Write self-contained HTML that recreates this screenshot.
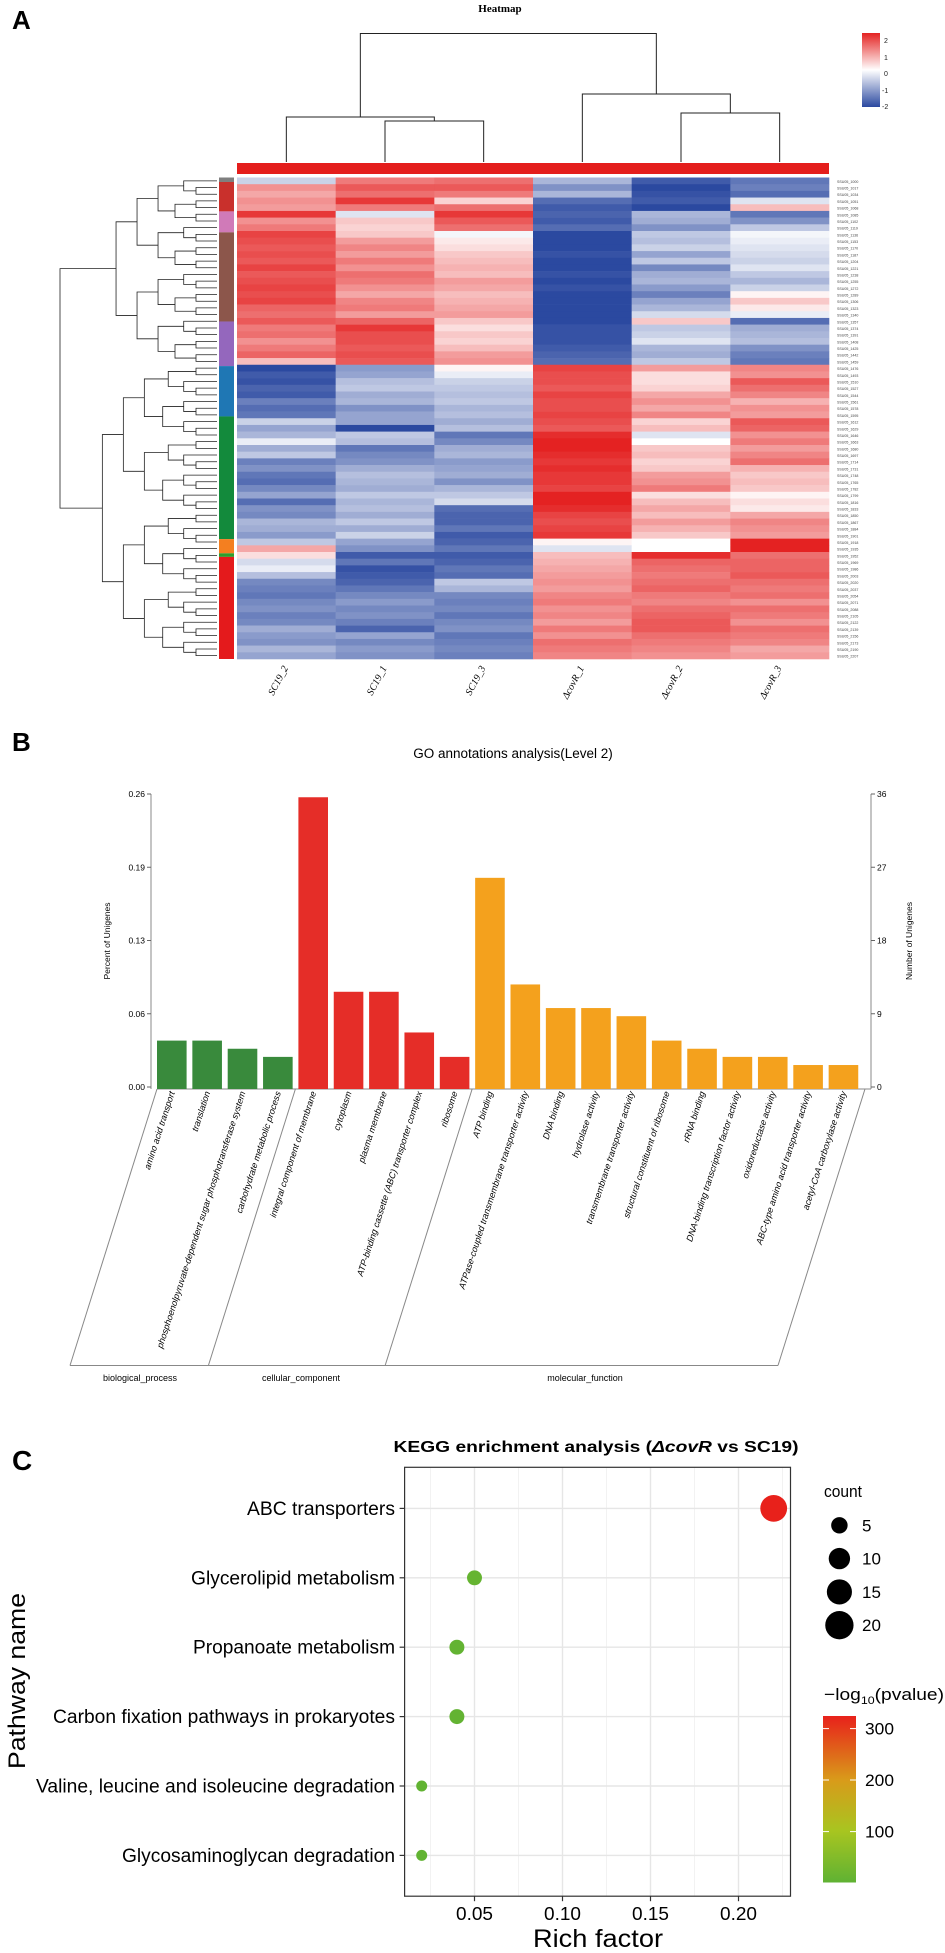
<!DOCTYPE html>
<html><head><meta charset="utf-8"><style>
html,body{margin:0;padding:0;background:#fff}
svg{display:block}
text{font-family:"Liberation Sans",Arial,sans-serif}
</style></head><body>
<svg id="fig" width="945" height="1953" viewBox="0 0 945 1953" xmlns="http://www.w3.org/2000/svg">
<defs>
<linearGradient id="hmgrad" x1="0" y1="0" x2="0" y2="1">
<stop offset="0" stop-color="#e42322"/><stop offset="0.5" stop-color="#ffffff"/><stop offset="1" stop-color="#2b49a0"/>
</linearGradient>
<linearGradient id="pgrad" x1="0" y1="1" x2="0" y2="0">
<stop offset="0" stop-color="#5fb233"/><stop offset="0.31" stop-color="#a8c520"/><stop offset="0.62" stop-color="#d99a1a"/><stop offset="1" stop-color="#e8211b"/>
</linearGradient>
</defs>
<!-- Panel A -->
<g id="panelA">
<text x="12" y="29" font-size="26" font-weight="bold">A</text>
<text x="500" y="12" font-size="11" font-weight="bold" text-anchor="middle" style="font-family:'Liberation Serif',serif">Heatmap</text>
<g id="coldend" stroke="#222" stroke-width="1" fill="none"></g>
<rect x="237" y="163" width="592" height="11" fill="#e41e1c"/>
<g id="rowdend" stroke="#222" stroke-width="0.8" fill="none"></g>
<g id="clusterbar"></g>
<g id="cells"></g>
<g id="rowlabels"></g>
<g id="collabels"></g>
<g>
<rect x="862" y="33" width="18" height="74" fill="url(#hmgrad)"/>
<g font-size="7" style="font-family:'Liberation Serif',serif" fill="#222">
<text x="884" y="43">2</text><text x="884" y="60">1</text><text x="884" y="76">0</text><text x="882" y="93">-1</text><text x="882" y="109">-2</text>
</g>
</g>
</g>
<!-- Panel B -->
<g id="panelB">
<text x="12" y="751" font-size="26" font-weight="bold">B</text>
<text x="513" y="758" font-size="13.5" text-anchor="middle">GO annotations analysis(Level 2)</text>
<g id="goaxes"></g>
<g id="gobars"></g>
<g id="golabels"></g>
<g id="gogroups"></g>
</g>
<!-- Panel C -->
<g id="panelC">
<text x="12" y="1470" font-size="28" font-weight="bold">C</text>
<text x="596" y="1452" font-size="16" font-weight="bold" text-anchor="middle" textLength="405" lengthAdjust="spacingAndGlyphs">KEGG enrichment analysis (<tspan font-style="italic">ΔcovR</tspan> vs SC19)</text>
<g id="kegg"></g>
<text transform="translate(25,1681) rotate(-90)" font-size="24" text-anchor="middle" textLength="176" lengthAdjust="spacingAndGlyphs">Pathway name</text>
<text x="598" y="1947" font-size="25" text-anchor="middle" textLength="130" lengthAdjust="spacingAndGlyphs">Rich factor</text>
<g id="countleg">
<text x="824" y="1497" font-size="17" textLength="38" lengthAdjust="spacingAndGlyphs">count</text>
</g>
<g>
<text x="824" y="1700" font-size="17" textLength="120" lengthAdjust="spacingAndGlyphs">−log<tspan font-size="11" dy="4">10</tspan><tspan dy="-4">(pvalue)</tspan></text>
<rect x="823" y="1716" width="33" height="166.5" fill="url(#pgrad)"/>
<g stroke="#fff" stroke-width="1"><line x1="823" y1="1728.6" x2="829" y2="1728.6"/><line x1="850" y1="1728.6" x2="856" y2="1728.6"/><line x1="823" y1="1780" x2="829" y2="1780"/><line x1="850" y1="1780" x2="856" y2="1780"/><line x1="823" y1="1831.6" x2="829" y2="1831.6"/><line x1="850" y1="1831.6" x2="856" y2="1831.6"/></g>
<g font-size="17"><text x="865" y="1734.6" textLength="29" lengthAdjust="spacingAndGlyphs">300</text><text x="865" y="1786" textLength="29" lengthAdjust="spacingAndGlyphs">200</text><text x="865" y="1837.6" textLength="29" lengthAdjust="spacingAndGlyphs">100</text></g>
</g>
</g>
</svg>
<script>
// ---------- Heatmap data ----------
const hmSamples = ["SC19_2","SC19_1","SC19_3","ΔcovR_1","ΔcovR_2","ΔcovR_3"];
const hmValues = [
[-0.5,1.2,1.3,-0.8,-1.8,-1.5],[1.0,1.5,1.5,-1.2,-2,-1.4],[0.8,1.3,1.2,-0.8,-1.9,-1.6],[1.0,1.8,0.4,-1.6,-1.8,-0.3],
[0.9,1.2,1.3,-1.8,-2,0.6],[1.8,-0.3,1.8,-1.7,-0.8,-1.5],[1.0,0.5,1.5,-1.8,-0.9,-1.2],[1.2,0.4,1.3,-1.6,-1.2,-0.6],
[1.7,0.5,-0.1,-2,-0.6,-0.1],[1.6,0.9,0.2,-2,-0.7,-0.2],[1.5,1.1,0.3,-2,-0.5,-0.3],[1.6,0.9,0.5,-1.9,-1.0,-0.4],
[1.5,1.2,0.6,-2,-0.6,-0.5],[1.7,1.0,0.7,-2,-1.3,-0.3],[1.5,1.3,0.6,-1.9,-0.9,-0.6],[1.6,1.2,0.9,-2,-0.8,-0.8],
[1.7,1.0,0.8,-1.9,-1.1,-0.5],[1.6,0.8,0.6,-2,-1.4,0.1],[1.7,1.1,0.7,-2,-1.0,0.5],[1.4,1.2,0.8,-2,-0.8,0.2],
[1.3,0.9,0.9,-2,-0.4,-0.2],[1.5,1.4,0.5,-2,0.5,-1.6],[1.2,1.8,0.3,-1.9,-0.6,-0.9],[1.3,1.6,0.5,-1.9,-0.5,-0.8],
[1.0,1.6,0.4,-1.9,-0.3,-0.7],[1.2,1.5,0.6,-1.8,-0.8,-1.2],[1.4,1.6,0.9,-1.7,-0.9,-1.4],[0.6,1.5,1.0,-1.6,-0.6,-1.5],
[-2,-1.1,0.1,1.7,0.9,1.1],[-1.8,-1.0,-0.2,1.6,0.3,1.0],[-1.9,-0.7,-0.5,1.6,0.3,1.5],[-1.7,-0.6,-0.6,1.5,0.4,1.3],
[-1.8,-0.9,-0.7,1.7,0.8,1.1],[-1.4,-0.8,-0.6,1.6,1.0,0.7],[-1.6,-1.2,-0.8,1.6,0.8,1.0],[-1.5,-1.0,-0.7,1.7,1.1,0.9],
[-0.5,-1.0,-0.9,1.6,0.4,1.5],[-1.0,-2,-0.7,1.5,0.6,1.4],[-0.8,-0.6,-1.5,1.9,-0.3,1.0],[-0.2,-0.7,-1.3,2,0.0,1.2],
[-0.9,-1.5,-0.9,2,0.5,0.9],[-0.6,-1.3,-0.8,1.9,0.6,1.1],[-1.4,-1.2,-1.1,1.8,0.4,1.3],[-1.2,-0.9,-1.0,1.9,0.5,0.7],
[-1.5,-0.7,-0.9,1.8,0.9,0.5],[-1.6,-0.8,-1.2,1.8,1.0,0.6],[-1.3,-0.9,-0.8,1.7,1.2,0.5],[-1.0,-0.6,-0.6,2.2,0.3,0.1],
[-1.6,-0.8,-0.4,2.1,0.6,0.3],[-1.2,-0.7,-1.6,1.9,0.8,0.2],[-1.3,-0.9,-1.7,1.7,0.6,0.8],[-0.8,-0.6,-1.7,1.6,0.9,1.1],
[-0.9,-0.9,-1.5,1.7,0.7,1.0],[-1.1,-0.5,-1.8,1.8,0.5,0.9],[-0.6,-1.0,-1.7,0.1,0.0,2.1],[0.8,-1.2,-1.5,-0.3,0.0,2.0],
[0.3,-1.8,-1.8,0.6,1.9,1.3],[-0.4,-1.5,-1.7,0.7,1.4,1.4],[-0.2,-1.9,-1.5,0.8,1.3,1.4],[-0.7,-1.8,-1.6,0.9,1.2,1.5],
[-1.3,-1.7,-0.6,1.0,1.3,1.3],[-1.4,-1.5,-0.8,0.9,1.4,1.2],[-1.5,-1.3,-1.3,1.1,1.2,1.3],[-1.3,-1.1,-1.4,1.2,1.1,1.0],
[-1.2,-1.3,-1.3,1.0,1.3,1.3],[-1.4,-1.2,-1.5,1.1,1.4,1.2],[-1.3,-1.4,-1.3,0.9,1.5,1.0],[-0.9,-1.7,-1.2,1.2,1.5,1.3],
[-1.1,-1.0,-1.5,1.0,1.3,1.2],[-1.2,-1.3,-1.4,1.3,1.2,1.1],[-0.8,-1.1,-1.3,1.2,1.1,0.8],[-1.0,-1.2,-1.4,1.1,1.0,0.9]
];
const clusterStarts = [0,0.67,5.07,8.2,21.53,28.2,35.73,54.07,56.2,56.73];
const clusterEnds   = [0.67,5.07,8.2,21.53,28.2,35.73,54.07,56.2,56.73,72];
const clusterColors = ["#7f7f7f","#c9302c","#d07ab8","#8c564b","#9467bd","#1f77b4","#138a3c","#f47f20","#2ca02c","#e41a1c"];

// ---------- GO data ----------
const goTerms = ["amino acid transport","translation","phosphoenolpyruvate-dependent sugar phosphotransferase system","carbohydrate metabolic process","integral component of membrane","cytoplasm","plasma membrane","ATP-binding cassette (ABC) transporter complex","ribosome","ATP binding","ATPase-coupled transmembrane transporter activity","DNA binding","hydrolase activity","transmembrane transporter activity","structural constituent of ribosome","rRNA binding","DNA-binding transcription factor activity","oxidoreductase activity","ABC-type amino acid transporter activity","acetyl-CoA carboxylase activity"];
const goGroup = [0,0,0,0,1,1,1,1,1,2,2,2,2,2,2,2,2,2,2,2];
const goCounts = [5.7,5.7,4.7,3.7,35.6,11.7,11.7,6.7,3.7,25.7,12.6,9.7,9.7,8.7,5.7,4.7,3.7,3.7,2.7,2.7];
const goGroupNames = ["biological_process","cellular_component","molecular_function"];
const goLeftTicks = ["0.26","0.19","0.13","0.06","0.00"];
const goRightTicks = ["36","27","18","9","0"];

// ---------- KEGG data ----------
const keggPathways = ["ABC transporters","Glycerolipid metabolism","Propanoate metabolism","Carbon fixation pathways in prokaryotes","Valine, leucine and isoleucine degradation","Glycosaminoglycan degradation"];
const keggRich = [0.22,0.05,0.04,0.04,0.02,0.02];
const keggCount = [22,5,5,5,2,2];
const keggLogP = [320,8,6,6,3,3];
const keggXTicks = [0.05,0.10,0.15,0.20];
const keggXTickLabels = ["0.05","0.10","0.15","0.20"];
const countLegendValues = [5,10,15,20];

const NS="http://www.w3.org/2000/svg";
function mk(tag,attrs,parent){const e=document.createElementNS(NS,tag);for(const k in attrs)e.setAttribute(k,attrs[k]);parent.appendChild(e);return e;}
function line(p,x1,y1,x2,y2){return mk("line",{x1,y1,x2,y2},p);}

// ===== Heatmap =====
const hmX0=237, hmX1=829, hmY0=177.5, hmY1=659;
const colW=(hmX1-hmX0)/hmSamples.length, rowH=(hmY1-hmY0)/hmValues.length;
function hmColor(v){v=Math.max(-2,Math.min(2,v));const t=Math.abs(v)/2;
 const c=v>=0?[228,34,34]:[43,73,160];
 const r=Math.round(255+(c[0]-255)*t),g=Math.round(255+(c[1]-255)*t),b=Math.round(255+(c[2]-255)*t);return `rgb(${r},${g},${b})`;}
const cells=document.getElementById("cells");
hmValues.forEach((row,i)=>row.forEach((v,j)=>{
 const r=mk("rect",{x:hmX0+j*colW,y:hmY0+i*rowH,width:colW+0.3,height:rowH+0.3,fill:hmColor(v)},cells);
 
 
}));
const cb=document.getElementById("clusterbar");
clusterStarts.forEach((s,k)=>{
 const r=mk("rect",{x:219,y:hmY0+s*rowH,width:15,height:(clusterEnds[k]-s)*rowH,fill:clusterColors[k]},cb);
 
 
});
const rl=document.getElementById("rowlabels");
hmValues.forEach((row,i)=>{
 const t=mk("text",{x:837,y:hmY0+i*rowH+rowH*0.8,"font-size":3.6,fill:"#444"},rl);
 t.textContent="SSU05_"+String(1000+i*17).padStart(4,"0");
 
 
});
const cl=document.getElementById("collabels");
hmSamples.forEach((s,j)=>{
 const cx=hmX0+(j+0.5)*colW;
 const t=mk("text",{transform:`translate(${cx+2},${668}) rotate(-62)`,"text-anchor":"end","font-size":10,"font-style":"italic",style:"font-family:'Liberation Serif',serif"},cl);
 t.textContent=s;
 
 
});
// column dendrogram
const cd=document.getElementById("coldend");
const cc=j=>hmX0+(j+0.5)*colW, cBot=162;
function ul(xa,xb,yt,ya,yb){mk("path",{d:`M${xa},${ya}V${yt}H${xb}V${yb}`},cd);}
ul(cc(1),cc(2),121,cBot,cBot);
ul(cc(0),(cc(1)+cc(2))/2,117,cBot,121);
ul(cc(4),cc(5),113,cBot,cBot);
ul(cc(3),(cc(4)+cc(5))/2,94,cBot,113);
ul((cc(0)+(cc(1)+cc(2))/2)/2,(cc(3)+(cc(4)+cc(5))/2)/2,33.5,117,94);
// row dendrogram
const rd=document.getElementById("rowdend");
function build(lo,hi){
 if(hi-lo===1)return{y:hmY0+(lo+0.5)*rowH,x:217};
 let mid;
 if(lo===0&&hi===72)mid=28;else mid=Math.floor((lo+hi)/2);
 const a=build(lo,mid),b=build(mid,hi);
 let x=(lo===0&&hi===72)?60:217-21*Math.log2(hi-lo);
 x=Math.min(x,a.x-3,b.x-3);
 mk("path",{d:`M${a.x},${a.y}H${x}V${b.y}H${b.x}`},rd);
 return{y:(a.y+b.y)/2,x};
}
build(0,72);

// ===== GO chart =====
const gX0=151, gX1=871, gY0=1087, gYtop=794, barStart=157, slot=35.35, barW=29.6;
const gy=v=>gY0-v/36*(gY0-gYtop);
const gax=document.getElementById("goaxes");
mk("line",{x1:gX0,y1:gYtop,x2:gX0,y2:gY0+2,stroke:"#888","stroke-width":1},gax);
mk("line",{x1:gX1,y1:gYtop,x2:gX1,y2:gY0+2,stroke:"#888","stroke-width":1},gax);
mk("line",{x1:barStart,y1:gY0+2,x2:gX1,y2:gY0+2,stroke:"#888","stroke-width":1},gax);
goLeftTicks.forEach((t,i)=>{const y=gYtop+i*(gY0-gYtop)/4;
 mk("line",{x1:gX0-4,y1:y,x2:gX0,y2:y,stroke:"#666"},gax);
 const e=mk("text",{x:gX0-6,y:y+3,"font-size":8.5,"text-anchor":"end"},gax);e.textContent=t;
 
 
});
goRightTicks.forEach((t,i)=>{const y=gYtop+i*(gY0-gYtop)/4;
 mk("line",{x1:gX1,y1:y,x2:gX1+4,y2:y,stroke:"#666"},gax);
 const e=mk("text",{x:gX1+6,y:y+3,"font-size":8.5},gax);e.textContent=t;
 
 
});
{const e=mk("text",{transform:"translate(110,941) rotate(-90)","font-size":8.5,"text-anchor":"middle"},gax);e.textContent="Percent of Unigenes";
 
 }
{const e=mk("text",{transform:"translate(912,941) rotate(-90)","font-size":8.5,"text-anchor":"middle"},gax);e.textContent="Number of Unigenes";
 
 }
const gcol=["#398a3c","#e52d28","#f4a11d"];
const gb=document.getElementById("gobars"), gl=document.getElementById("golabels");
goCounts.forEach((v,i)=>{
 const x=barStart+i*slot;
 const r=mk("rect",{x,y:gy(v),width:barW,height:gY0+2-gy(v),fill:gcol[goGroup[i]]},gb);
 
 
 const t=mk("text",{transform:`translate(${x+barW/2+3},${1093}) rotate(-72) skewX(-12)`,"text-anchor":"end","font-size":9},gl);
 t.textContent=goTerms[i];
 
 
});
const gg=document.getElementById("gogroups");
const bTop=1089, bBot=1365.5, dxs=-87;
const bounds=[barStart];
for(let i=1;i<goGroup.length;i++)if(goGroup[i]!==goGroup[i-1])bounds.push(barStart+i*slot-3);
bounds.push(barStart+goGroup.length*slot+1);
bounds.forEach(b=>mk("line",{x1:b,y1:bTop,x2:b+dxs,y2:bBot,stroke:"#888","stroke-width":1},gg));
mk("line",{x1:bounds[0]+dxs,y1:bBot,x2:bounds[bounds.length-1]+dxs,y2:bBot,stroke:"#888","stroke-width":1},gg);
goGroupNames.forEach((n,k)=>{
 const t=mk("text",{x:[140,301,585][k],y:1381,"font-size":9,"text-anchor":"middle"},gg);t.textContent=n;
 
 
});

// ===== KEGG =====
const kg=document.getElementById("kegg");
const pL=404.6,pR=790.5,pT=1467.3,pB=1896.2;
const kx=v=>386.5+v*1760;
const ky=i=>1508.4+i*69.4;
const kr=c=>(4.82*Math.sqrt(c)+4.18)/2;
function kcol(p){const st=[[0,[95,178,51]],[100,[168,197,32]],[200,[217,154,26]],[320,[232,33,27]]];
 for(let i=1;i<st.length;i++)if(p<=st[i][0]){const t=(p-st[i-1][0])/(st[i][0]-st[i-1][0]);const a=st[i-1][1],b=st[i][1];
 return `rgb(${a.map((x,k)=>Math.round(x+(b[k]-x)*t)).join(",")})`;}
 return "rgb(232,33,27)";}
mk("rect",{x:pL,y:pT,width:pR-pL,height:pB-pT,fill:"#fff"},kg);
[0.025,0.075,0.125,0.175,0.225].forEach(v=>{if(kx(v)<pR)mk("line",{x1:kx(v),y1:pT,x2:kx(v),y2:pB,stroke:"#f2f2f2","stroke-width":1},kg);});
keggXTicks.forEach(v=>mk("line",{x1:kx(v),y1:pT,x2:kx(v),y2:pB,stroke:"#e6e6e6","stroke-width":1.4},kg));
keggPathways.forEach((p,i)=>mk("line",{x1:pL,y1:ky(i),x2:pR,y2:ky(i),stroke:"#e6e6e6","stroke-width":1.4},kg));
mk("rect",{x:pL,y:pT,width:pR-pL,height:pB-pT,fill:"none",stroke:"#333","stroke-width":1.2},kg);
const kw=[148,204,202,342,359,273];
keggPathways.forEach((p,i)=>{
 mk("line",{x1:pL-5,y1:ky(i),x2:pL,y2:ky(i),stroke:"#333","stroke-width":1.2},kg);
 const t=mk("text",{x:395,y:ky(i)+6.5,"font-size":19,"text-anchor":"end",textLength:kw[i],lengthAdjust:"spacingAndGlyphs"},kg);
 t.textContent=p;
 
 
});
keggXTicks.forEach((v,i)=>{
 mk("line",{x1:kx(v),y1:pB,x2:kx(v),y2:pB+5,stroke:"#333","stroke-width":1.2},kg);
 const t=mk("text",{x:kx(v),y:1920,"font-size":18,"text-anchor":"middle",textLength:37,lengthAdjust:"spacingAndGlyphs"},kg);
 t.textContent=keggXTickLabels[i];
 
 
});
keggRich.forEach((v,i)=>{
 const c=mk("circle",{cx:kx(v),cy:ky(i),r:kr(keggCount[i]),fill:kcol(keggLogP[i])},kg);
 
 
});
const cl2=document.getElementById("countleg");
countLegendValues.forEach((c,i)=>{
 const y=1525.3+i*33.3;
 const d=mk("circle",{cx:839.4,cy:y,r:kr(c)*1.1,fill:"#000"},cl2);
 
 
 const t=mk("text",{x:862,y:y+6,"font-size":17},cl2);t.textContent=String(c);
 
 
});
</script>
</body></html>
